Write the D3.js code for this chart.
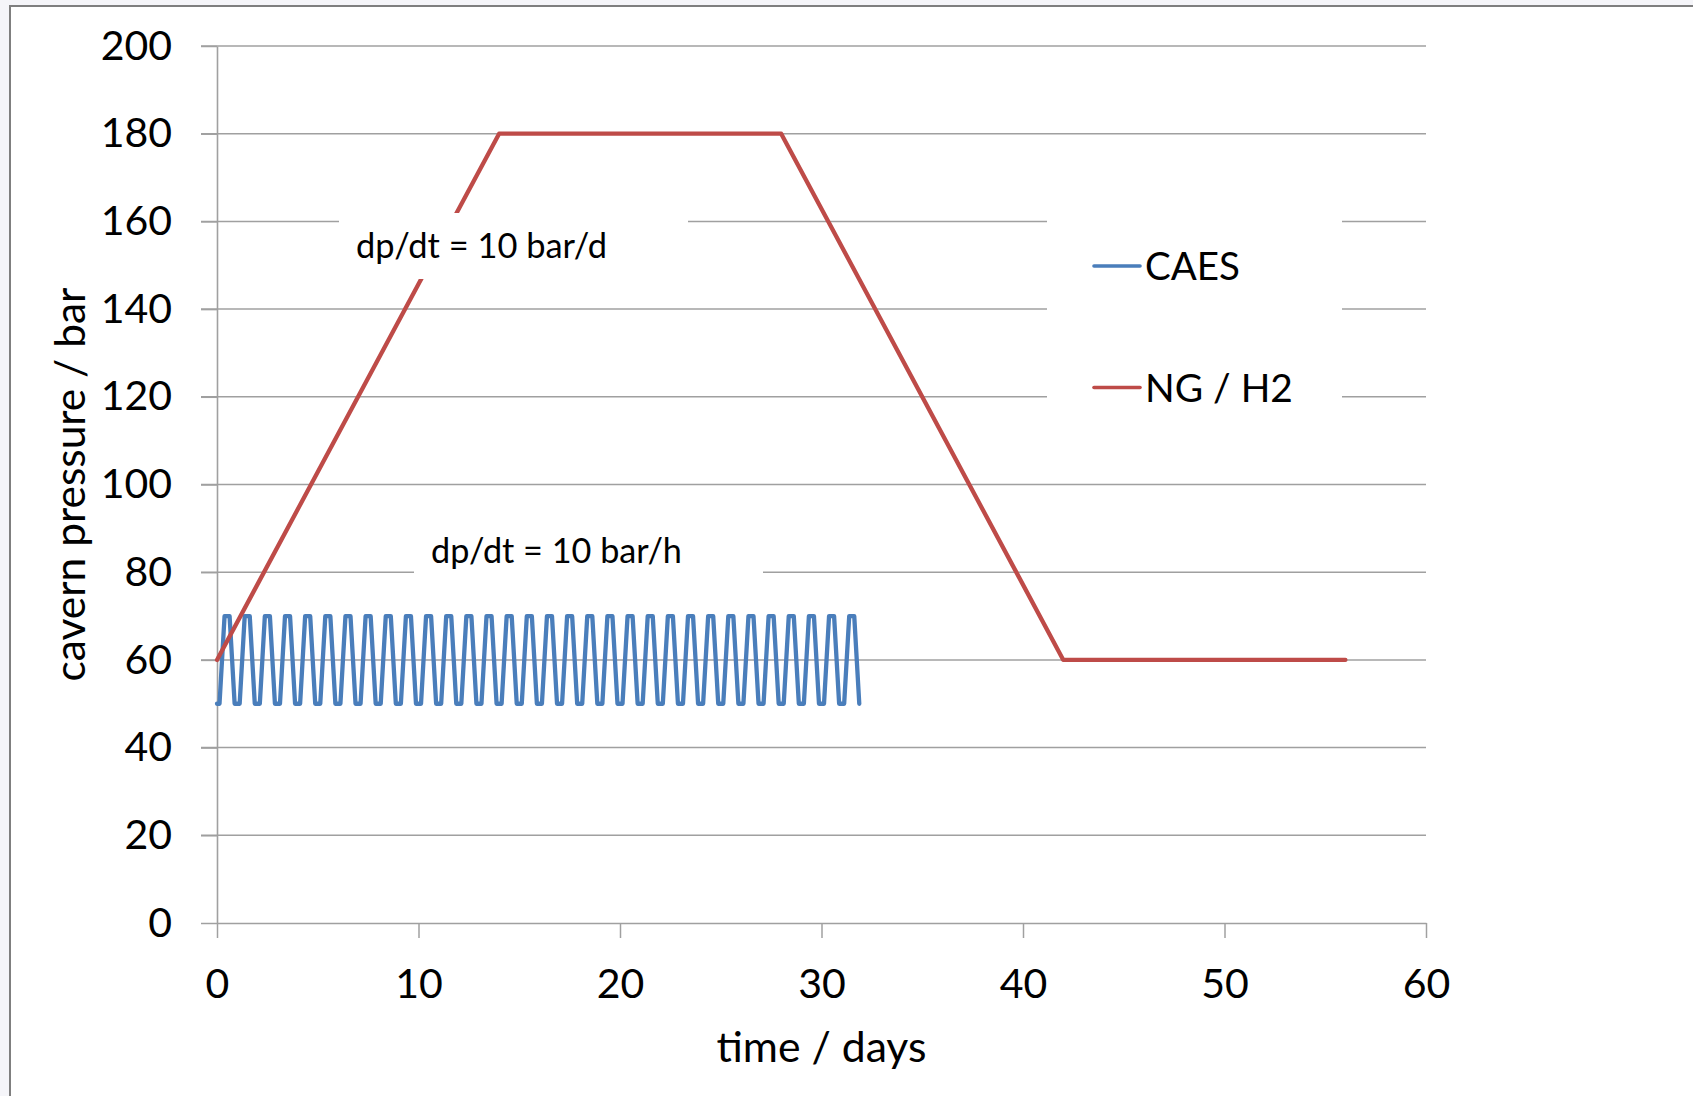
<!DOCTYPE html>
<html>
<head>
<meta charset="utf-8">
<script src="https://cdn.jsdelivr.net/npm/d3@7"></script>
<style>
  html, body { margin: 0; padding: 0; background: #ffffff; }
  svg { display: block; }
  text { font-family: Lato, "Open Sans", sans-serif; fill: #000; }
</style>
</head>
<body>
<svg id="chart" width="1693" height="1096"></svg>
<script>
// ---------- data ----------
const xTicks = [0, 10, 20, 30, 40, 50, 60];
const yTicks = [0, 20, 40, 60, 80, 100, 120, 140, 160, 180, 200];

const seriesNames = ["CAES", "NG / H2"];
const seriesColors = ["#4a7ebb", "#be4b48"];

// NG / H2 storage: time (days) and cavern pressure (bar)
const ngTime = [0, 14, 28, 42, 56];
const ngPressure = [60, 180, 180, 60, 60];

// CAES storage: daily cycle, time (days) and cavern pressure (bar)
const caesTime = [
  0,
  0.125, 0.375, 0.625, 0.875,
  1.125, 1.375, 1.625, 1.875,
  2.125, 2.375, 2.625, 2.875,
  3.125, 3.375, 3.625, 3.875,
  4.125, 4.375, 4.625, 4.875,
  5.125, 5.375, 5.625, 5.875,
  6.125, 6.375, 6.625, 6.875,
  7.125, 7.375, 7.625, 7.875,
  8.125, 8.375, 8.625, 8.875,
  9.125, 9.375, 9.625, 9.875,
  10.125, 10.375, 10.625, 10.875,
  11.125, 11.375, 11.625, 11.875,
  12.125, 12.375, 12.625, 12.875,
  13.125, 13.375, 13.625, 13.875,
  14.125, 14.375, 14.625, 14.875,
  15.125, 15.375, 15.625, 15.875,
  16.125, 16.375, 16.625, 16.875,
  17.125, 17.375, 17.625, 17.875,
  18.125, 18.375, 18.625, 18.875,
  19.125, 19.375, 19.625, 19.875,
  20.125, 20.375, 20.625, 20.875,
  21.125, 21.375, 21.625, 21.875,
  22.125, 22.375, 22.625, 22.875,
  23.125, 23.375, 23.625, 23.875,
  24.125, 24.375, 24.625, 24.875,
  25.125, 25.375, 25.625, 25.875,
  26.125, 26.375, 26.625, 26.875,
  27.125, 27.375, 27.625, 27.875,
  28.125, 28.375, 28.625, 28.875,
  29.125, 29.375, 29.625, 29.875,
  30.125, 30.375, 30.625, 30.875,
  31.125, 31.375, 31.625, 31.875
];
const caesPressure = [
  50,
  50, 70, 70, 50,  50, 70, 70, 50,  50, 70, 70, 50,  50, 70, 70, 50,
  50, 70, 70, 50,  50, 70, 70, 50,  50, 70, 70, 50,  50, 70, 70, 50,
  50, 70, 70, 50,  50, 70, 70, 50,  50, 70, 70, 50,  50, 70, 70, 50,
  50, 70, 70, 50,  50, 70, 70, 50,  50, 70, 70, 50,  50, 70, 70, 50,
  50, 70, 70, 50,  50, 70, 70, 50,  50, 70, 70, 50,  50, 70, 70, 50,
  50, 70, 70, 50,  50, 70, 70, 50,  50, 70, 70, 50,  50, 70, 70, 50,
  50, 70, 70, 50,  50, 70, 70, 50,  50, 70, 70, 50,  50, 70, 70, 50,
  50, 70, 70, 50,  50, 70, 70, 50,  50, 70, 70, 50,  50, 70, 70, 50
];

const xTitle = "time / days";
const yTitle = "cavern pressure / bar";
const annotations = ["dp/dt = 10 bar/d", "dp/dt = 10 bar/h"];

// ---------- layout ----------
const W = 1693, H = 1096;
const plot = { left: 217, right: 1426, top: 46, bottom: 923 };
const gridColor = "#a0a0a0";

const svg = d3.select("#chart");

// outer background and chart frame
svg.append("rect").attr("x", 0).attr("y", 0).attr("width", W).attr("height", H).attr("fill", "#f5f5f9");
svg.append("rect").attr("x", 10).attr("y", 6).attr("width", W + 20).attr("height", H + 20)
  .attr("fill", "#ffffff").attr("stroke", "#7f7f7f").attr("stroke-width", 2);

const x = d3.scaleLinear().domain([0, 60]).range([plot.left, plot.right]);
const y = d3.scaleLinear().domain([0, 200]).range([plot.bottom, plot.top]);

// gridlines (extend left as tick marks)
svg.append("g").selectAll("line").data(yTicks.filter(d => d !== 0)).join("line")
  .attr("x1", plot.left - 16).attr("x2", plot.right)
  .attr("y1", d => y(d)).attr("y2", d => y(d))
  .attr("stroke", gridColor).attr("stroke-width", 1.5);

// Y axis
const yAxis = svg.append("g").attr("transform", `translate(${plot.left},0)`)
  .call(d3.axisLeft(y).tickValues(yTicks).tickSize(16).tickSizeOuter(0).tickPadding(29).tickFormat(d3.format("d")));
yAxis.select(".domain").attr("stroke", gridColor).attr("stroke-width", 1.6);
yAxis.selectAll(".tick line").attr("stroke", gridColor).attr("stroke-width", 1.5);
yAxis.selectAll(".tick text").attr("font-size", 41).attr("font-family", "Lato").attr("fill", "#000");

// X axis
const xAxis = svg.append("g").attr("transform", `translate(0,${plot.bottom})`)
  .call(d3.axisBottom(x).tickValues(xTicks).tickSize(15).tickSizeOuter(0).tickPadding(31).tickFormat(d3.format("d")));
xAxis.select(".domain").attr("stroke", gridColor).attr("stroke-width", 1.6);
xAxis.selectAll(".tick line").attr("stroke", gridColor).attr("stroke-width", 1.5);
xAxis.selectAll(".tick text").attr("font-size", 41).attr("font-family", "Lato").attr("fill", "#000");

// series
const line = d3.line().x(d => x(d[0])).y(d => y(d[1]));
const caesData = caesTime.map((t, i) => [t, caesPressure[i]]);
const ngData = ngTime.map((t, i) => [t, ngPressure[i]]);

svg.append("path").datum(caesData).attr("d", line)
  .attr("fill", "none").attr("stroke", seriesColors[0]).attr("stroke-width", 4.3)
  .attr("stroke-linejoin", "round").attr("stroke-linecap", "round");
svg.append("path").datum(ngData).attr("d", line)
  .attr("fill", "none").attr("stroke", seriesColors[1]).attr("stroke-width", 4.3)
  .attr("stroke-linejoin", "round").attr("stroke-linecap", "round");

function fitWidth(sel, target) {
  const w = sel.node().getComputedTextLength();
  const fs = parseFloat(sel.attr("font-size"));
  sel.attr("font-size", fs * target / w);
  return sel;
}

// annotation boxes (white background text boxes)
const annBoxes = [
  { x0: 339, x1: 688, y0: 213, y1: 279, tx: 356, ty: 258 },
  { x0: 414, x1: 763, y0: 520, y1: 585, tx: 431, ty: 563 }
];
annBoxes.forEach((b, i) => {
  svg.append("rect").attr("x", b.x0).attr("y", b.y0).attr("width", b.x1 - b.x0).attr("height", b.y1 - b.y0)
    .attr("fill", "#ffffff");
  const t = svg.append("text").attr("x", b.tx).attr("y", b.ty).attr("font-size", 32).text(annotations[i]);
  fitWidth(t, 251);
});

// legend box
const legend = svg.append("g");
legend.append("rect").attr("x", 1047).attr("y", 172).attr("width", 1342 - 1047).attr("height", 272).attr("fill", "#ffffff");
const legendY = [266, 387.5];
const legendTextW = [95, 148];
seriesNames.forEach((name, i) => {
  legend.append("line").attr("x1", 1094).attr("x2", 1140).attr("y1", legendY[i]).attr("y2", legendY[i])
    .attr("stroke", seriesColors[i]).attr("stroke-width", 3.6).attr("stroke-linecap", "round");
  const t = legend.append("text").attr("x", 1145).attr("y", legendY[i]).attr("dy", "0.36em")
    .attr("font-size", 41).text(name);
  fitWidth(t, legendTextW[i]);
});

// axis titles
const xt = svg.append("text").attr("x", (plot.left + plot.right) / 2).attr("y", 1047).attr("dy", "0.36em")
  .attr("text-anchor", "middle").attr("font-size", 40).text(xTitle);
fitWidth(xt, 210);

const yt = svg.append("text").attr("transform", `translate(85,${(plot.top + plot.bottom) / 2}) rotate(-90)`)
  .attr("text-anchor", "middle").attr("font-size", 40).text(yTitle);
fitWidth(yt, 394);
</script>
</body>
</html>
